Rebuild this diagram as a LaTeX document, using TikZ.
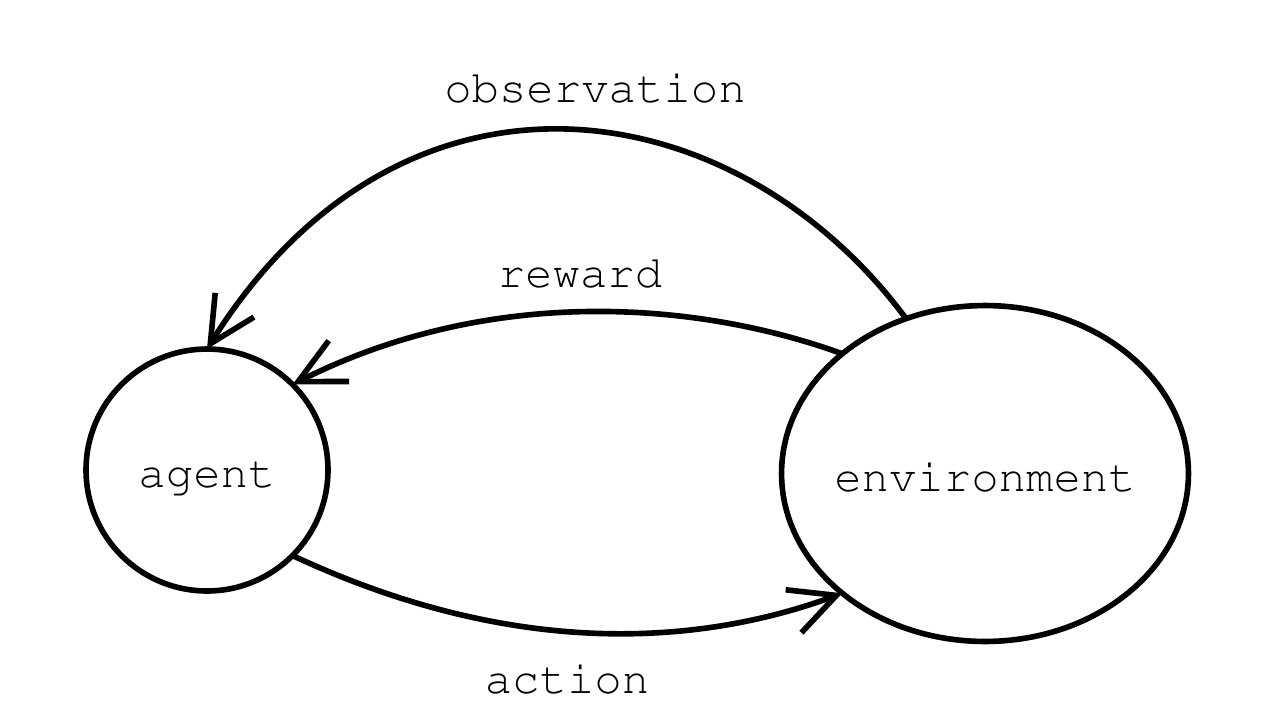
\documentclass[tikz,border=0pt]{standalone}
\usepackage[T1]{fontenc}
\renewcommand\ttdefault{pcr}
\usetikzlibrary{arrows.meta,shapes.geometric}
\begin{document}
\begin{tikzpicture}[x=0.02cm,y=-0.02cm,
  txt/.style={font=\ttfamily\fontsize{26}{30}\selectfont},
  lbl/.style={txt, inner sep=0pt},
  state/.style={txt, draw, line width=3.2pt, inner sep=0pt, outer sep=0pt,
    text height=20.4pt, text depth=0pt},
  flow/.style={line width=3.2pt, -{Straight Barb[length=26pt,width=26pt]}}
]
\useasboundingbox (0,0) rectangle (1282,724);
% the two states
\node[state, circle, minimum size=4.84cm] (agent) at (207,470) {agent};
\node[state, ellipse, inner xsep=-20pt, minimum width=8.14cm, minimum height=6.72cm] (env) at (985,473.5) {environment};
% interaction loop
\draw[flow] (env.117) .. controls (735,88) and (403,36) .. (agent.90);
\draw[flow] (env.140) .. controls (697,301) and (490,285) .. (agent.45);
\draw[flow] (agent.-45) .. controls (533,668) and (721,638) .. (env.-140);
% edge labels
\node[lbl, anchor=base] (obs) at (595,102) {observation};
\node[lbl, anchor=base] (rew) at (580,287) {reward};
\node[lbl, anchor=base] (act) at (567,693) {action};
\end{tikzpicture}
\end{document}
